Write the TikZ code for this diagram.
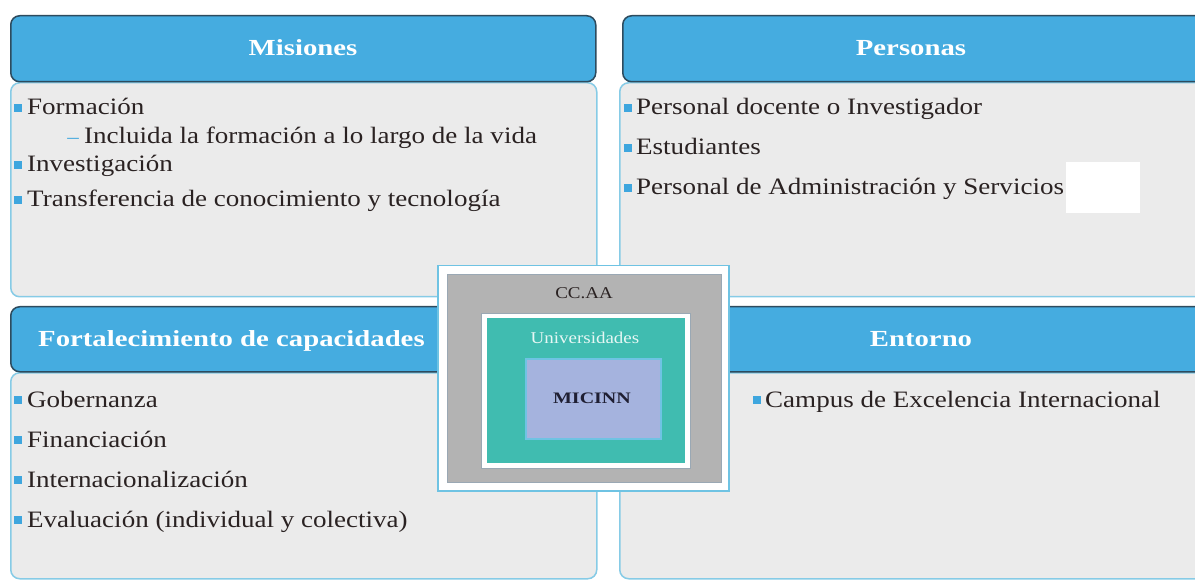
\documentclass[tikz,border=0pt]{standalone}
\usepackage{fontspec}
\setmainfont{Liberation Serif}[FakeStretch=1.15]
\newfontfamily\headfont{Liberation Serif}[FakeStretch=1.25]
\definecolor{hdr}{HTML}{45ACE0}
\definecolor{hdrline}{HTML}{2D4B5E}
\definecolor{bodyfill}{HTML}{EBEBEB}
\definecolor{bodyline}{HTML}{86CBE6}
\definecolor{bulletc}{HTML}{3EA6DE}
\definecolor{txt}{HTML}{2A2222}
\definecolor{grayb}{HTML}{B3B3B3}
\definecolor{grayline}{HTML}{9AA8B4}
\definecolor{tealc}{HTML}{40BCB0}
\definecolor{micinnc}{HTML}{A5B3DE}
\definecolor{frameline}{HTML}{6FC3E3}
\definecolor{unitxt}{HTML}{E6F7F4}
\definecolor{mictxt}{HTML}{1F1F33}
\tikzset{
  hdrbox/.style={draw=hdrline, line width=1.5pt, fill=hdr, rounded corners=9pt, anchor=north west, inner sep=0pt},
  bodybox/.style={draw=bodyline, line width=1.5pt, fill=bodyfill, rounded corners=9pt, anchor=north west, inner sep=0pt},
  itemtext/.style={anchor=base west, inner sep=0pt, font=\fontsize{23.5}{26}\selectfont, text=txt},
  blt/.style={fill=bulletc, minimum width=8pt, minimum height=8pt, inner sep=0pt, outer sep=0pt},
  hdrtext/.style={font=\headfont\bfseries\fontsize{23}{26}\selectfont, text=white, anchor=base, inner sep=0pt},
  sq/.style={anchor=north west, inner sep=0pt}
}
\begin{document}
\begin{tikzpicture}[x=1pt,y=-1pt]
\clip (0,0) rectangle (1195,580);
\fill[white] (0,0) rectangle (1195,580);

% bodies
\node[bodybox, minimum width=586pt, minimum height=214pt] (tlbody) at (10,82) {};
\node[bodybox, minimum width=600pt, minimum height=214pt] (trbody) at (619,82) {};
\node[bodybox, minimum width=586pt, minimum height=206pt] (blbody) at (10,372) {};
\node[bodybox, minimum width=600pt, minimum height=206pt] (brbody) at (619,372) {};

% headers
\node[hdrbox, minimum width=585pt, minimum height=66pt] (tlhdr) at (10,15) {};
\node[hdrbox, minimum width=600pt, minimum height=66pt] (trhdr) at (622,15) {};
\node[hdrbox, minimum width=480pt, minimum height=65pt] (blhdr) at (10,306) {};
\node[hdrbox, minimum width=520pt, minimum height=65pt] (brhdr) at (690,306) {};

\node[hdrtext] (t1) at (303,56) {Misiones};
\node[hdrtext] (t2) at (911,56) {Personas};
\node[hdrtext, anchor=base west] (t3) at (38,346) {Fortalecimiento de capacidades};
\node[hdrtext] (t4) at (921,346) {Entorno};

% top-left items
\node[blt] (b1) at (18,108) {};
\node[itemtext] (i1) at (27,115) {Formación};
\node[anchor=base, inner sep=0pt, text=bulletc, font=\fontsize{20}{22}\selectfont] (d1) at (73,144) {–};
\node[itemtext] (i2) at (84,144) {Incluida la formación a lo largo de la vida};
\node[blt] (b2) at (18,165) {};
\node[itemtext] (i3) at (27,172) {Investigación};
\node[blt] (b3) at (18,200) {};
\node[itemtext] (i4) at (27,207) {Transferencia de conocimiento y tecnología};

% top-right items
\node[blt] (b4) at (628,108) {};
\node[itemtext] (i5) at (636,115) {Personal docente o Investigador};
\node[blt] (b5) at (628,148) {};
\node[itemtext] (i6) at (636,155) {Estudiantes};
\node[blt] (b6) at (628,188) {};
\node[itemtext] (i7) at (636,195) {Personal de Administración y Servicios};
\node[sq, fill=white, minimum width=74pt, minimum height=51pt] (wr) at (1066,162) {};

% bottom-left items
\node[blt] (b7) at (18,400) {};
\node[itemtext] (i8) at (27,407) {Gobernanza};
\node[blt] (b8) at (18,440) {};
\node[itemtext] (i9) at (27,447) {Financiación};
\node[blt] (b9) at (18,480) {};
\node[itemtext] (i10) at (27,487) {Internacionalización};
\node[blt] (b10) at (18,520) {};
\node[itemtext] (i11) at (27,527) {Evaluación (individual y colectiva)};

% bottom-right items
\node[blt] (b11) at (757,400) {};
\node[itemtext] (i12) at (765,407) {Campus de Excelencia Internacional};

% centre nested boxes
\node[sq, draw=frameline, line width=1.5pt, fill=white, minimum width=291pt, minimum height=225pt] (outer) at (437,265) {};
\node[sq, draw=grayline, line width=0.8pt, fill=grayb, minimum width=274pt, minimum height=208pt] (ccaa) at (447,274) {};
\node[sq, draw=grayline, line width=0.8pt, fill=white, minimum width=209pt, minimum height=155pt] (uframe) at (481,313) {};
\node[sq, fill=tealc, minimum width=198pt, minimum height=145pt] (univ) at (487,318) {};
\node[sq, draw=frameline, line width=2pt, fill=micinnc, minimum width=135pt, minimum height=80pt] (mic) at (525,358) {};
\node[font=\fontsize{16.5}{18}\selectfont, text=txt, inner sep=0pt] (l1) at (584,293) {CC.AA};
\node[font=\fontsize{16.5}{18}\selectfont, text=unitxt, inner sep=0pt] (l2) at (585,338) {Universidades};
\node[font=\headfont\bfseries\fontsize{16}{18}\selectfont, text=mictxt, inner sep=0pt] (l3) at (592,398) {MICINN};
\end{tikzpicture}
\end{document}
